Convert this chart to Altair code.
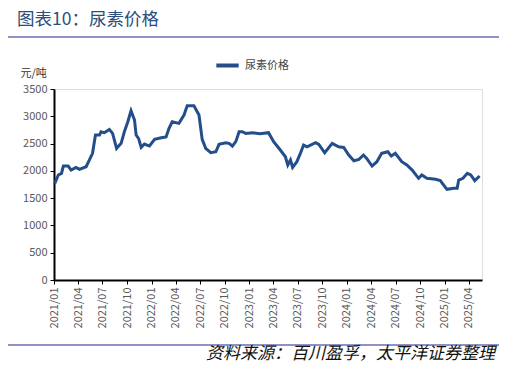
import altair as alt
import pandas as pd

dates = ["2021-01-04","2021-01-17","2021-01-29","2021-02-05","2021-02-23","2021-03-06","2021-03-24","2021-04-06",
         "2021-05-01","2021-05-13","2021-05-25","2021-06-05","2021-06-20","2021-06-26","2021-07-08","2021-07-27",
         "2021-08-08","2021-08-23","2021-09-09","2021-09-21","2021-10-04","2021-10-16","2021-10-29","2021-11-04",
         "2021-11-13","2021-11-23","2021-12-05","2021-12-24","2022-01-12","2022-02-06","2022-02-24","2022-03-07",
         "2022-03-19","2022-04-13","2022-05-02","2022-05-14","2022-06-08","2022-06-27","2022-07-09","2022-07-22",
         "2022-08-10","2022-08-29","2022-09-10","2022-10-05","2022-10-17","2022-10-30","2022-11-12","2022-11-24",
         "2022-12-06","2022-12-19","2023-01-13","2023-02-10","2023-03-14","2023-04-02","2023-04-27","2023-05-16",
         "2023-05-25","2023-06-04","2023-06-12","2023-06-28","2023-07-11","2023-07-23","2023-08-05","2023-09-06",
         "2023-09-18","2023-10-10","2023-11-07","2023-12-01","2023-12-20","2024-01-08","2024-01-27","2024-02-15",
         "2024-03-03","2024-03-15","2024-04-04","2024-04-22","2024-05-10","2024-06-02","2024-06-15","2024-06-30",
         "2024-07-24","2024-08-12","2024-09-01","2024-09-25","2024-10-07","2024-10-26","2024-11-27","2024-12-15",
         "2025-01-09","2025-02-03","2025-02-16","2025-02-22","2025-03-10","2025-03-26","2025-04-08","2025-04-23",
         "2025-05-11"]
prices = [1771,1924,1954,2088,2088,2015,2064,2027,
          2076,2198,2321,2656,2656,2717,2700,2760,
          2687,2412,2504,2717,2900,3101,2931,2656,
          2595,2430,2492,2455,2577,2607,2620,2779,
          2900,2870,3023,3193,3193,3023,2577,2412,
          2332,2350,2486,2516,2504,2455,2540,2717,
          2717,2687,2700,2680,2699,2534,2382,2259,
          2107,2198,2064,2168,2321,2473,2442,2516,
          2486,2332,2504,2442,2430,2290,2186,2210,
          2290,2229,2088,2168,2321,2351,2271,2321,
          2168,2107,2015,1863,1924,1863,1845,1820,
          1661,1680,1680,1832,1863,1954,1924,1820,
          1905]
series_name = "尿素价格"
tick_dates = ["2021-01-01","2021-04-01","2021-07-01","2021-10-01","2022-01-01","2022-04-01","2022-07-01",
              "2022-10-01","2023-01-01","2023-04-01","2023-07-01","2023-10-01","2024-01-01","2024-04-01",
              "2024-07-01","2024-10-01","2025-01-01","2025-04-01"]
y_ticks = [0, 500, 1000, 1500, 2000, 2500, 3000, 3500]
title_text = "图表10：尿素价格"
unit_text = "元/吨"
source_text = "资料来源：百川盈孚，太平洋证券整理"

df = pd.DataFrame({"date": pd.to_datetime(dates), "price": prices, "series": series_name})

FONT = "Noto Sans CJK SC"
W, H = 428, 191

line = alt.Chart(df).mark_line(strokeWidth=3, clip=False).encode(
    x=alt.X("date:T",
            scale=alt.Scale(domain=[pd.Timestamp("2021-01-01").isoformat(), pd.Timestamp("2025-05-20").isoformat()]),
            axis=alt.Axis(values=[pd.Timestamp(d).isoformat() for d in tick_dates],
                          format="%Y/%m", labelAngle=-90, labelAlign="right", labelBaseline="middle",
                          labelColor="#595959", labelFontSize=11, labelFont=FONT, labelPadding=3,
                          domainColor="#000000", domainWidth=2, tickColor="#000000", tickSize=4,
                          tickWidth=1, grid=False, title=None, labelOverlap=False)),
    y=alt.Y("price:Q", scale=alt.Scale(domain=[0, 3500], nice=False),
            axis=alt.Axis(values=y_ticks, format="d", labelColor="#595959", labelFontSize=11, labelFont=FONT,
                          domainColor="#000000", domainWidth=2, tickColor="#000000", tickSize=4,
                          grid=False, title=unit_text, titleAngle=0, titleX=-34, titleY=-16,
                          titleAlign="left", titleBaseline="middle", titleFont=FONT,
                          titleFontSize=11, titleFontWeight="normal", titleColor="#333333", labelPadding=3)),
    color=alt.Color("series:N", scale=alt.Scale(range=["#234e8a"]),
                    legend=alt.Legend(title=None, orient="none", legendX=160, legendY=-37,
                                      symbolType="stroke", symbolStrokeWidth=4, symbolSize=500,
                                      labelFont=FONT, labelFontSize=11, labelColor="#444444",
                                      direction="horizontal"))
)

title = alt.Chart(pd.DataFrame({"t": [title_text]})).mark_text(
    align="left", baseline="middle", fontSize=17.5, font=FONT, color="#2d4e78", clip=False
).encode(x=alt.value(-37), y=alt.value(-69), text="t:N")

rule_top = alt.Chart(pd.DataFrame({"a": [0]})).mark_rule(color="#8f92c2", strokeWidth=2, clip=False).encode(
    x=alt.value(-49), x2=alt.value(447), y=alt.value(-52))
rule_bot = alt.Chart(pd.DataFrame({"a": [0]})).mark_rule(color="#8f92c2", strokeWidth=2, clip=False).encode(
    x=alt.value(-49), x2=alt.value(447), y=alt.value(256))

source = alt.Chart(pd.DataFrame({"t": [source_text]})).mark_text(
    align="right", baseline="middle", fontSize=17, font=FONT, fontStyle="italic", color="#111111", clip=False
).encode(x=alt.value(441), y=alt.value(265), text="t:N")

chart = alt.layer(line, title, rule_top, rule_bot, source).properties(
    width=W, height=H,
    autosize=alt.AutoSizeParams(type="none"),
    padding={"left": 46, "top": 81, "right": 17, "bottom": 83}
).configure_view(stroke=None).configure(background="white")

chart.save("out.html", embed_options={"renderer": "svg", "actions": False})
